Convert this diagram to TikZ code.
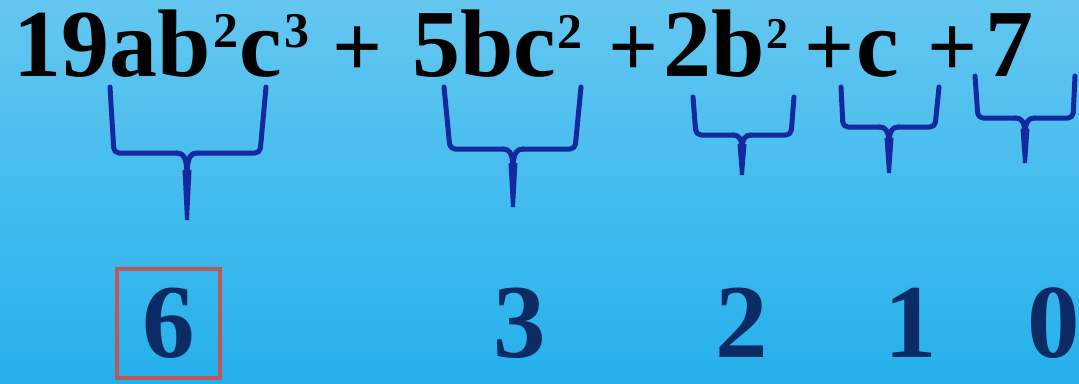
\documentclass[tikz,border=0pt]{standalone}
\usepackage{fontspec}
\setmainfont{Liberation Serif}
\definecolor{bgtop}{RGB}{100,199,240}
\definecolor{bgbot}{RGB}{36,176,236}
\definecolor{bracecol}{RGB}{22,40,160}
\definecolor{navy}{RGB}{12,42,100}
\definecolor{boxred}{RGB}{188,88,90}
\newcommand{\myexp}[3]{\raisebox{#1pt}{\fontsize{#2}{#2}\selectfont #3}}
% #1,#2 left top; #3 left bottom x; #4 horizontal y; #5 centre x; #6 right bottom x; #7,#8 right top; #9 stem bottom y
\newcommand{\mybrace}[9]{%
  \pgfmathsetmacro{\dropy}{#4+0.28*(#9-#4)}%
  \pgfmathsetmacro{\hw}{min(10,4+0.12*(#9-#4))}%
  \draw[bracearm, rounded corners=5pt] (#1,#2) -- (#3,#4) -- (#5-\hw,#4);
  \draw[bracearm, rounded corners=5pt] (#7,#8) -- (#6,#4) -- (#5+\hw,#4);
  \draw[bracearm] (#5-\hw,#4) .. controls (#5-\hw*0.35,#4) and (#5-1,#4+4) .. (#5,\dropy);
  \draw[bracearm] (#5+\hw,#4) .. controls (#5+\hw*0.35,#4) and (#5+1,#4+4) .. (#5,\dropy);
  \fill[bracecol] (#5-4.5,\dropy-2) -- (#5+4.5,\dropy-2) -- (#5+2,#9) -- (#5-2,#9) -- cycle;
}
\tikzset{
  term/.style={inner sep=0pt, anchor=base west, font=\fontsize{96}{96}\selectfont\bfseries, text=black},
  plussign/.style={inner sep=0pt, anchor=base, font=\fontsize{88}{88}\selectfont\bfseries, text=black},
  degree/.style={inner sep=0pt, anchor=base, font=\fontsize{105}{105}\selectfont\bfseries, text=navy},
  bracearm/.style={draw=bracecol, line width=5pt, line join=round, line cap=round},
}
\begin{document}
\begin{tikzpicture}[x=1pt, y=-1pt]
  \useasboundingbox (0,0) rectangle (1079,383);
  \fill[top color=bgtop, bottom color=bgbot] (0,0) rectangle (1079,383);

  % top expression
  \node[term] (t1) at (13,76) {19ab\kern3pt\myexp{29}{50}{2}\kern1pt c\kern2pt\myexp{29}{50}{3}};
  \node[plussign] (p1) at (358,76) {+};
  \node[term] (t2) at (412,76) {5bc\kern1pt\myexp{28}{50}{2}};
  \node[plussign] (p2) at (634,76) {+};
  \node[term] (t3) at (663,76) {2b\kern2pt\myexp{28}{44}{2}};
  \node[plussign] (p3) at (830,76) {+};
  \node[term] (t4) at (856,76) {c};
  \node[plussign] (p4) at (953,76) {+};
  \node[term] (t5) at (985,76) {7};

  % braces
  \mybrace{110}{87}{114}{153}{187}{260}{266}{87}{220}
  \mybrace{444}{87}{450}{149}{513}{575}{581}{87}{207}
  \mybrace{693}{97}{696}{135}{742}{791}{794}{97}{175}
  \mybrace{841}{87}{843}{127}{889}{935}{939}{87}{173}
  \mybrace{975}{76}{978}{118}{1025}{1073}{1075}{76}{163}

  % degrees
  \node[degree, anchor=center, draw=boxred, line width=4pt, minimum width=103pt, minimum height=109pt] (d6) at (168.5,323.5) {6};
  \node[degree] (d3) at (520,357) {3};
  \node[degree] (d2) at (742,357) {2};
  \node[degree] (d1) at (911,357) {1};
  \node[degree] (d0) at (1054,357) {0};
\end{tikzpicture}
\end{document}
